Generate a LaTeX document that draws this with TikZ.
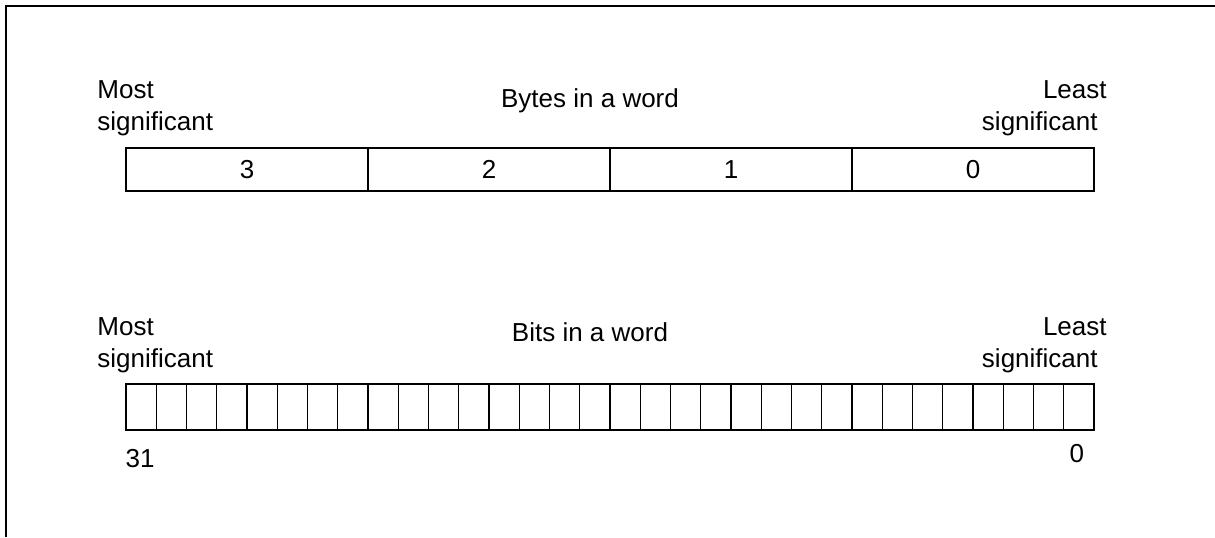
\documentclass[tikz,border=0pt]{standalone}
\usepackage{fontspec}
\setmainfont{Liberation Sans}
\usepackage{tikz}
\usetikzlibrary{positioning}

\begin{document}
\begin{tikzpicture}[x=0.5pt,y=-0.5pt,
  cell/.style={rectangle,draw,line width=0.7pt,inner sep=0pt,font=\fontsize{13}{16}\selectfont},
  bytecell/.style={cell,minimum width=121pt,minimum height=21.5pt},
  bitcell/.style={cell,minimum width=15.125pt,minimum height=23pt},
  lbl/.style={inner sep=0pt,font=\fontsize{13}{16}\selectfont}
]
\useasboundingbox (0,0) rectangle (1215,537);
\draw[line width=1pt] (6,537) -- (6,6) -- (1215,6);

% bytes in a word
\node[lbl,anchor=base west] (bmost)  at (97,98)   {Most};
\node[lbl,anchor=base west] (bmsig)  at (97,130)  {significant};
\node[lbl,anchor=base]      (btitle) at (590,107) {Bytes in a word};
\node[lbl,anchor=base east] (bleast) at (1107,98) {Least};
\node[lbl,anchor=base east] (blsig)  at (1098,130){significant};
\foreach \b [count=\i from 0] in {3,2,1,0}
  \node[bytecell] (byte\b) at (126+121+242*\i,169.5) {\b};

% bits in a word
\node[lbl,anchor=base west] (tmost)  at (97,335)   {Most};
\node[lbl,anchor=base west] (tmsig)  at (97,367)   {significant};
\node[lbl,anchor=base]      (ttitle) at (590,341)  {Bits in a word};
\node[lbl,anchor=base east] (tleast) at (1107,335) {Least};
\node[lbl,anchor=base east] (tlsig)  at (1098,367) {significant};
\foreach \i in {0,...,31}
  \node[bitcell] (bit\i) at (126+15.125+30.25*\i,407) {};
\node[lbl,anchor=north west] (num31) at ([yshift=-9pt]bit0.south west) {31};
\node[lbl,anchor=north] (num0) at ([xshift=-1pt,yshift=-6.5pt]bit31.south) {0};
\end{tikzpicture}
\end{document}
